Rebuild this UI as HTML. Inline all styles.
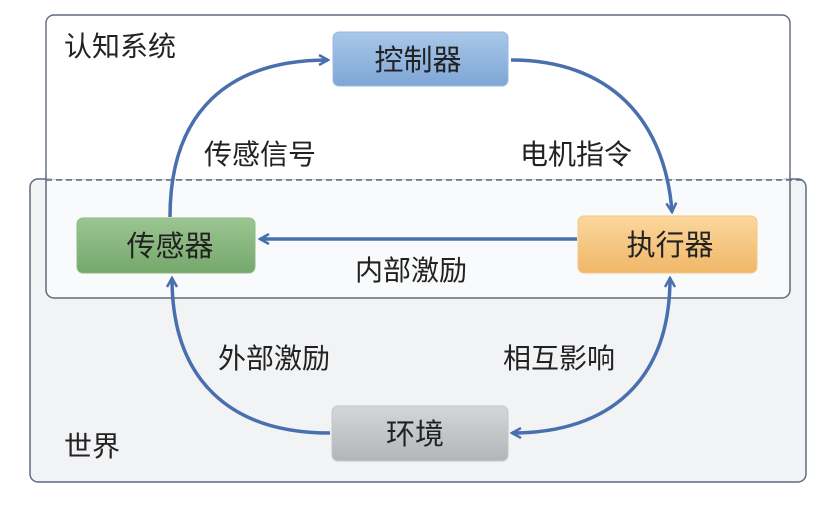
<!DOCTYPE html>
<html><head><meta charset="utf-8"><style>
body{margin:0;width:830px;height:500px;background:#fff;overflow:hidden}
svg text{font-family:"Liberation Sans","Noto Sans CJK SC",sans-serif;fill:#222}
</style></head><body>
<svg width="830" height="500" viewBox="0 0 830 500">
<defs>
<linearGradient id="gb" x1="0" y1="0" x2="0" y2="1"><stop offset="0" stop-color="#a9c7e8"/><stop offset="1" stop-color="#7ea6d6"/></linearGradient>
<linearGradient id="gg" x1="0" y1="0" x2="0" y2="1"><stop offset="0" stop-color="#9cc592"/><stop offset="1" stop-color="#74a86b"/></linearGradient>
<linearGradient id="go" x1="0" y1="0" x2="0" y2="1"><stop offset="0" stop-color="#fbd79d"/><stop offset="1" stop-color="#f0b768"/></linearGradient>
<linearGradient id="gy" x1="0" y1="0" x2="0" y2="1"><stop offset="0" stop-color="#d4d6d9"/><stop offset="1" stop-color="#b2b5b9"/></linearGradient>
<marker id="ar" viewBox="0 0 12 12" refX="10" refY="6" markerWidth="12" markerHeight="12" markerUnits="userSpaceOnUse" orient="auto-start-reverse"><path d="M1,1 L10,6 L1,11" fill="none" stroke="#4a6fae" stroke-width="2.5"/></marker>
</defs>
<rect x="30" y="179" width="776" height="303" rx="8" fill="#f2f3f5" stroke="#5f6b7e" stroke-width="1.5"/>
<rect x="46" y="15" width="744" height="283" rx="8" fill="#fff" fill-opacity="0.55" stroke="#5f6b7e" stroke-width="1.5"/>
<rect x="46.8" y="16" width="742.4" height="163" rx="7" fill="#fff"/>
<line x1="46" y1="180" x2="806" y2="180" stroke="#5f6b7e" stroke-width="1.5" stroke-dasharray="6,4"/>
<g fill="none" stroke="#4a6fae" stroke-width="3.5">
<path d="M511,60 C610,60 665,120 672,212" marker-end="url(#ar)"/>
<path d="M170,217 C170,110 230,60 328,60" marker-end="url(#ar)"/>
<path d="M577,239 L260,239" marker-end="url(#ar)"/>
<path d="M330,433 C230,433 172,380 172,278" marker-end="url(#ar)"/>
<path d="M670,278 C670,380 610,433 512,433" marker-start="url(#ar)" marker-end="url(#ar)"/>
</g>
<rect x="333" y="32" width="175" height="54" rx="6" fill="url(#gb)" stroke="#9bb8dc"/>
<rect x="77" y="218" width="178" height="55" rx="6" fill="url(#gg)" stroke="#8dba84"/>
<rect x="578" y="216" width="179" height="57" rx="6" fill="url(#go)" stroke="#f3c888"/>
<rect x="332" y="406" width="176" height="55" rx="6" fill="url(#gy)" stroke="#c3c5c8"/>
<g font-size="29" text-anchor="middle">
<text x="418" y="70">控制器</text>
<text x="170" y="256">传感器</text>
<text x="670" y="255">执行器</text>
<text x="415" y="444">环境</text>
</g>
<g font-size="28">
<text x="64" y="56">认知系统</text>
<text x="64" y="456">世界</text>
<text x="204" y="164">传感信号</text>
<text x="520" y="164">电机指令</text>
<text x="355" y="280">内部激励</text>
<text x="218" y="368">外部激励</text>
<text x="503" y="368">相互影响</text>
</g>
</svg>
</body></html>
